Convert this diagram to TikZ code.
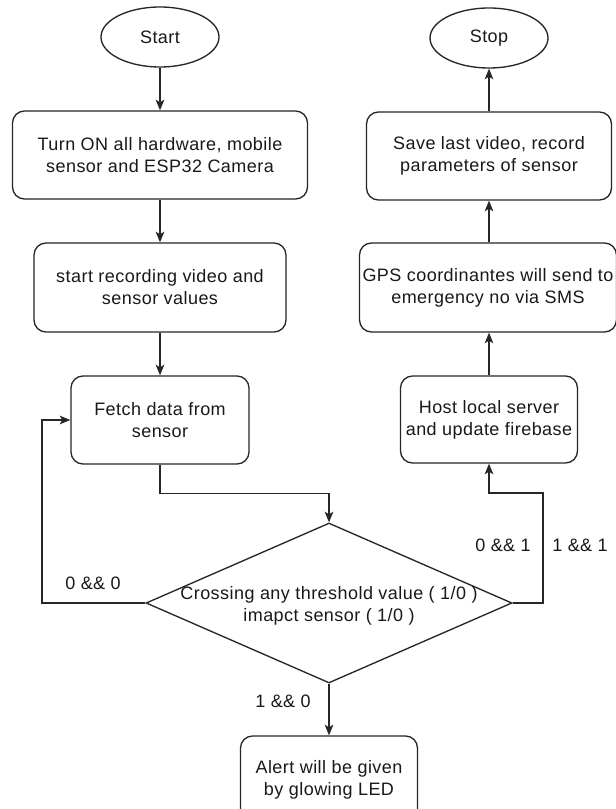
\documentclass[tikz,border=0pt]{standalone}
\usepackage{fontspec}
\setmainfont[LetterSpace=2.5]{Liberation Sans}
\usetikzlibrary{shapes.geometric,arrows.meta,calc}
\begin{document}
\begin{tikzpicture}[x=0.75pt,y=-0.75pt,
  every node/.style={font=\fontsize{13.5pt}{16.5pt}\selectfont, text=black!90},
  line/.style={draw=black!85, line width=1pt},
  arr/.style={line, -{Stealth[length=8pt,width=6.5pt,inset=2pt]}},
  term/.style={ellipse, line, minimum width=88.5pt, minimum height=45pt, inner sep=0pt},
  proc/.style={rectangle, rounded corners=9pt, line, align=center, inner sep=0pt},
  lbl/.style={inner sep=0pt}
]
\clip (0,0) rectangle (616,809);
\fill[white] (0,0) rectangle (616,809);

\node[term] (start) at (160,37) {Start};
\node[term] (stop) at (489,38) {Stop};

\node[proc, minimum width=221.25pt, minimum height=66pt] (turnon) at (160,155) {Turn ON all hardware, mobile\\sensor and ESP32 Camera};
\node[proc, minimum width=183.75pt, minimum height=66pt] (save) at (489,156) {Save last video, record\\parameters of sensor};
\node[proc, minimum width=189pt, minimum height=66.75pt] (rec) at (160,287.5) {start recording video and\\sensor values};
\node[proc, minimum width=192.75pt, minimum height=66.75pt] (gps) at (488,287.5) {GPS coordinantes will send to\\emergency no via SMS};
\node[proc, minimum width=133.5pt, minimum height=66pt] (fetch) at (160,420) {Fetch data from\\sensor};
\node[proc, minimum width=132.75pt, minimum height=65.25pt] (host) at (489,419.5) {Host local server\\and update firebase};
\node[diamond, line, minimum width=274.5pt, minimum height=120pt, inner sep=0pt] (dec) at (329,603) {};
\node[align=center, inner sep=0pt] (dectext) at (329,606) {Crossing any threshold value ( 1/0 )\\imapct sensor ( 1/0 )};
\node[proc, minimum width=132.75pt, minimum height=66pt] (alert) at (329,780) {Alert will be given\\by glowing LED};

\coordinate (lc) at (42,603);
\coordinate (rc) at (543,493);

\draw[arr] (start) -- (turnon);
\draw[arr] (turnon) -- (rec);
\draw[arr] (rec) -- (fetch);
\draw[arr] (fetch.south) -- ++(0,29) -| (dec.north);
\draw[arr] (dec.west) -- (lc) |- (fetch.west);
\draw[arr] (dec.east) -| (rc) -| (host.south);
\draw[arr] (dec.south) -- (alert.north);
\draw[arr] (host.north) -- (host.north |- gps.south);
\draw[arr] (host.north |- gps.north) -- (host.north |- save.south);
\draw[arr] (save.north) -- (save.north |- stop.south);

\node[lbl] (l00) at (93,583) {0 \&\& 0};
\node[lbl] (l01) at (503,545) {0 \&\& 1};
\node[lbl] (l11) at (580,545) {1 \&\& 1};
\node[lbl] (l10) at (283,701) {1 \&\& 0};
\end{tikzpicture}
\end{document}
